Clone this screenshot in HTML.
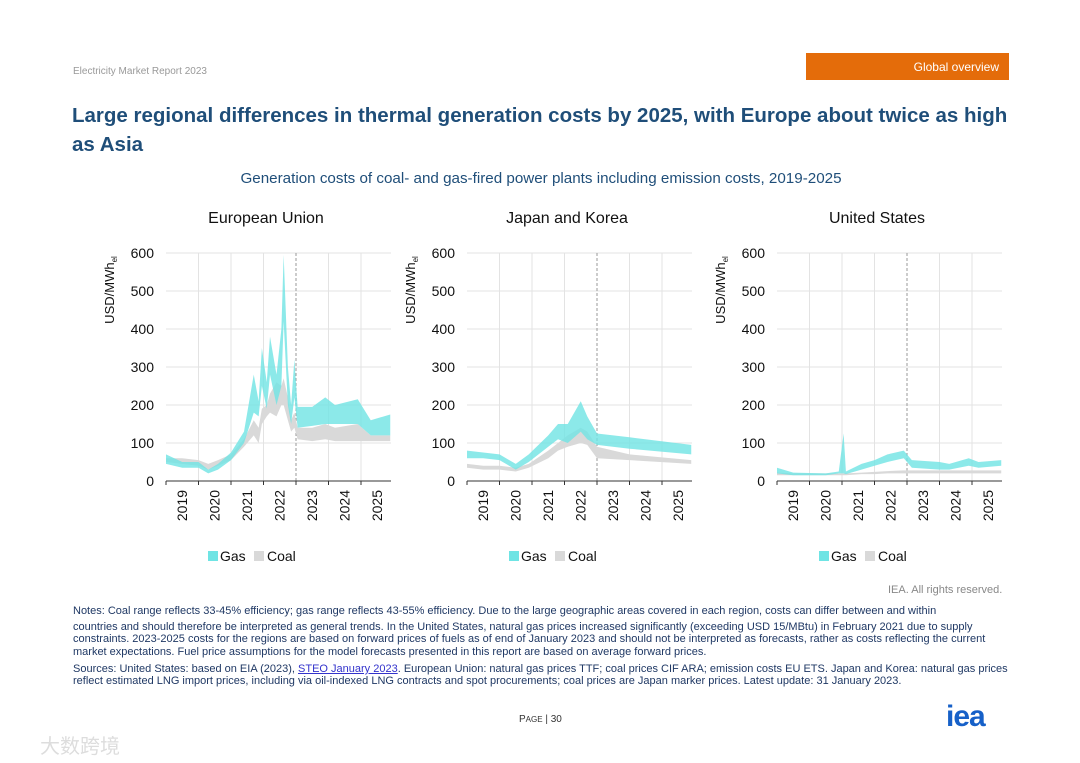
<!DOCTYPE html>
<html><head><meta charset="utf-8"><style>
body{margin:0;width:1080px;height:763px;background:#fff;font-family:"Liberation Sans",sans-serif;position:relative;overflow:hidden}
.a{position:absolute;white-space:nowrap}
.notes{position:absolute;left:73px;width:940px;font-size:11px;color:#1f3864;line-height:12.3px}
</style></head><body>
<div class="a" style="left:73px;top:66px;font-size:10px;color:#999">Electricity Market Report 2023</div>
<div class="a" style="left:806px;top:53px;width:203px;height:27px;background:#e46c0a;color:#fff;font-size:12px;line-height:28px;text-align:right;box-sizing:border-box;padding-right:10px">Global overview</div>
<div class="a" style="left:72px;top:101px;font-size:20.5px;font-weight:bold;color:#1f4e79;line-height:29px;white-space:normal;width:945px">Large regional differences in thermal generation costs by 2025, with Europe about twice as high as Asia</div>
<div class="a" style="left:0;width:1082px;text-align:center;top:170px;font-size:15.2px;color:#1f4e79">Generation costs of coal- and gas-fired power plants including emission costs, 2019-2025</div>
<svg id="ch" width="1080" height="600" style="position:absolute;left:0;top:0"></svg>
<div class="a" style="left:888px;top:584px;font-size:11px;color:#888">IEA. All rights reserved.</div>
<div class="notes" style="top:605px">Notes: Coal range reflects 33-45% efficiency; gas range reflects 43-55% efficiency. Due to the large geographic areas covered in each region, costs can differ between and within</div>
<div class="notes" style="top:621px">countries and should therefore be interpreted as general trends. In the United States, natural gas prices increased significantly (exceeding USD 15/MBtu) in February 2021 due to supply constraints. 2023-2025 costs for the regions are based on forward prices of fuels as of end of January 2023 and should not be interpreted as forecasts, rather as costs reflecting the current market expectations. Fuel price assumptions for the model forecasts presented in this report are based on average forward prices.</div>
<div class="notes" style="top:663px">Sources: United States: based on EIA (2023), <span style="color:#3333cc;text-decoration:underline">STEO January 2023</span>. European Union: natural gas prices TTF; coal prices CIF ARA; emission costs EU ETS. Japan and Korea: natural gas prices reflect estimated LNG import prices, including via oil-indexed LNG contracts and spot procurements; coal prices are Japan marker prices. Latest update: 31 January 2023.</div>
<div class="a" style="left:519px;top:714px;font-size:10px;color:#333">P<span style="font-size:8px">AGE</span> | 30</div>
<div class="a" style="left:946px;top:700px;font-size:30px;font-weight:bold;color:#1660c8;letter-spacing:-1px">iea</div>
<div class="a" style="left:40px;top:730px;font-size:20px;color:#ddd;font-family:'Liberation Sans','Noto Sans CJK SC',sans-serif">大数跨境</div>
<script>
const years=["2019","2020","2021","2022","2023","2024","2025"];
const yTicks=[0,100,200,300,400,500,600];
const regions=["European Union","Japan and Korea","United States"];
const euT=[2019.0,2019.5,2020.0,2020.3,2020.6,2021.0,2021.4,2021.7,2021.85,2021.95,2022.1,2022.2,2022.4,2022.55,2022.62,2022.75,2022.85,2022.95,2023.05,2023.5,2023.9,2024.2,2024.9,2025.3,2025.9];
const euGasLo=[45,35,35,20,30,55,100,180,170,250,190,280,200,250,420,200,150,220,140,145,150,150,150,120,120];
const euGasHi=[70,50,50,30,45,75,130,280,210,350,260,380,280,400,595,300,200,320,195,195,220,200,215,160,175];
const euCoalLo=[50,45,40,30,40,55,90,120,100,150,170,180,170,200,200,160,130,140,110,105,110,105,105,105,105];
const euCoalHi=[60,60,55,45,55,70,110,160,140,190,200,230,260,250,270,220,160,180,140,140,150,140,150,120,120];
const jkT=[2019.0,2019.5,2020.0,2020.5,2020.9,2021.5,2021.8,2022.1,2022.5,2022.7,2023.0,2024.0,2025.9];
const jkGasLo=[60,60,55,30,50,90,110,100,130,110,95,85,70];
const jkGasHi=[80,75,70,45,70,120,150,150,210,170,125,115,95];
const jkCoalLo=[35,30,30,25,35,60,80,90,100,95,60,55,45];
const jkCoalHi=[45,40,40,35,45,80,100,120,140,130,90,70,55];
const usT=[2019.0,2019.5,2020.5,2020.9,2021.05,2021.12,2021.6,2022.0,2022.4,2022.9,2023.15,2024.0,2024.3,2024.9,2025.2,2025.9];
const usGasLo=[20,15,15,20,20,18,30,40,50,60,35,30,30,40,35,40];
const usGasHi=[35,22,20,25,125,25,45,55,70,80,55,50,45,60,50,55];
const usCoalLo=[15,15,15,15,15,15,18,18,20,20,20,20,20,20,20,20];
const usCoalHi=[22,20,20,20,20,20,22,24,26,28,28,28,28,28,28,28];
const panels=[
 {x0:166,t:euT,gl:euGasLo,gh:euGasHi,cl:euCoalLo,ch:euCoalHi},
 {x0:467,t:jkT,gl:jkGasLo,gh:jkGasHi,cl:jkCoalLo,ch:jkCoalHi},
 {x0:777,t:usT,gl:usGasLo,gh:usGasHi,cl:usCoalLo,ch:usCoalHi}];
const NS="http://www.w3.org/2000/svg",svg=document.getElementById('ch');
function mk(tag,at,par){const e=document.createElementNS(NS,tag);for(const k in at)e.setAttribute(k,at[k]);(par||svg).appendChild(e);return e;}
const yS=v=>481-v*0.38;
panels.forEach((p,i)=>{
 const xS=t=>p.x0+(t-2019)*32.5;
 const g=mk('g',{});
 
 
 const ti=mk('text',{x:p.x0+100,y:223,'text-anchor':'middle','font-size':16,fill:'#111'},g);ti.textContent=regions[i];
 
 
 yTicks.forEach(v=>{
  if(v>0)mk('line',{x1:p.x0,x2:p.x0+225,y1:yS(v),y2:yS(v),stroke:'#e3e3e3'},g);
  const t=mk('text',{x:p.x0-12,y:yS(v)+5,'text-anchor':'end','font-size':14,fill:'#111'},g);t.textContent=v;
  
  
 });
 years.forEach((y,k)=>{
  const x=xS(2019+k);
  if(k>0)mk('line',{x1:x,x2:x,y1:yS(600),y2:481,stroke:k==4?'#999':'#e3e3e3','stroke-dasharray':k==4?'3,2':''},g);
  mk('line',{x1:x,x2:x,y1:481,y2:485,stroke:'#333'},g);
  const t=mk('text',{x:0,y:0,'text-anchor':'end','font-size':14,fill:'#111',transform:`translate(${x+21},490) rotate(-90)`},g);t.textContent=y;
  
  
 });
 function band(lo,hi,col,op,name){
  let d='M'+p.t.map((t,j)=>xS(t)+','+yS(hi[j])).join('L');
  d+='L'+p.t.slice().reverse().map((t,j)=>xS(t)+','+yS(lo[lo.length-1-j])).join('L')+'Z';
  const e=mk('path',{d:d,fill:col,'fill-opacity':op},g);
  
  
 }
 band(p.cl,p.ch,'#d9d9d9',1,'coal-band');
 band(p.gl,p.gh,'#6fe4e4',0.8,'gas-band');
 mk('line',{x1:p.x0,x2:p.x0+225,y1:481,y2:481,stroke:'#333'},g);
 const yl=mk('text',{x:0,y:0,'font-size':13,fill:'#111','text-anchor':'middle',transform:`translate(${p.x0-52},290) rotate(-90)`},g);yl.textContent='USD/MWh';
 const sub=mk('tspan',{'font-size':8,dy:3},yl);sub.textContent='el';
 
 
 const lx=p.x0+42;
 const l1=mk('rect',{x:lx,y:551,width:10,height:10,fill:'#6fe4e4'},g);
 
 
 const t1=mk('text',{x:lx+12,y:561,'font-size':14,fill:'#111'},g);t1.textContent='Gas';
 const l2=mk('rect',{x:lx+46,y:551,width:10,height:10,fill:'#d9d9d9'},g);
 
 
 const t2=mk('text',{x:lx+59,y:561,'font-size':14,fill:'#111'},g);t2.textContent='Coal';
});
</script>
</body></html>
